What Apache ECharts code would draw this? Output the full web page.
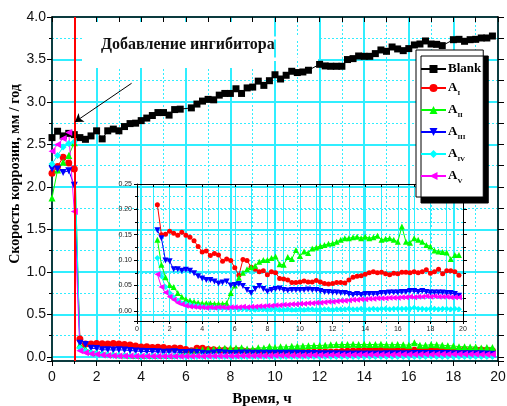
<!DOCTYPE html>
<html><head><meta charset="utf-8">
<script src="https://cdn.jsdelivr.net/npm/echarts@6/dist/echarts.min.js"></script>
<style>html,body{margin:0;padding:0;background:#fff}#c{width:507px;height:406px}</style>
</head><body><div id="c"></div>
<script>
// ---- data (time, h) ----
const hours = [0,0.25,0.5,0.75,1,1.25,1.5,1.75,2,2.25,2.5,2.75,3,3.25,3.5,3.75,4,4.25,4.5,4.75,5,5.25,5.5,5.75,6,6.25,6.5,6.75,7,7.25,7.5,7.75,8,8.25,8.5,8.75,9,9.25,9.5,9.75,10,10.25,10.5,10.75,11,11.25,11.5,11.75,12,12.25,12.5,12.75,13,13.25,13.5,13.75,14,14.25,14.5,14.75,15,15.25,15.5,15.75,16,16.25,16.5,16.75,17,17.25,17.5,17.75,18,18.25,18.5,18.75,19,19.25,19.5,19.75];
const insetHours = hours.slice(5);

const blank = [2.58,2.655,2.60,2.63,2.615,2.58,2.56,2.60,2.66,2.565,
  2.66,2.68,2.66,2.71,2.745,2.75,2.78,2.81,2.84,2.875,
  2.875,2.845,2.91,2.915,null,2.93,2.975,3.01,3.03,3.025,
  3.08,3.10,3.10,3.155,3.10,3.165,3.175,3.245,3.195,3.25,
  3.32,3.27,3.314,3.361,3.346,3.353,3.373,null,3.443,3.424,
  3.42,3.42,3.42,3.499,3.51,3.541,3.537,3.537,3.569,3.612,
  3.596,3.647,3.624,3.604,3.628,3.671,3.682,3.718,3.682,3.678,
  3.663,null,3.733,3.737,3.714,3.733,3.737,3.753,3.753,3.776];

// before inhibitor addition (0 .. 1 h)
const preA1 = [2.16,2.24,2.35,2.28,2.21];
const preA2 = [1.87,2.20,2.29,2.37,2.52];
const preA3 = [2.21,2.21,2.17,2.19,2.02];
const preA4 = [2.27,2.37,2.47,2.51,2.53];
const preA5 = [2.42,2.50,2.57,2.64,1.71];

// after inhibitor addition (1.25 .. 19.75 h)
const postA1 = [0.209,0.150,0.151,0.157,0.153,0.149,0.155,0.149,0.145,0.138,
  0.127,0.116,0.118,0.109,0.113,0.110,0.098,0.102,0.099,0.085,
  0.070,0.101,0.099,0.086,0.082,0.077,0.079,0.071,0.077,0.075,
  0.064,0.063,0.061,0.056,0.056,0.057,0.059,0.057,0.057,0.060,
  0.057,0.054,0.053,0.054,0.056,0.056,0.055,0.061,
  0.066,0.068,0.069,0.072,0.075,0.077,0.075,0.076,0.073,0.071,
  0.074,0.073,0.076,0.076,0.075,0.077,0.075,0.077,0.081,0.074,
  0.077,0.082,0.073,0.079,0.079,0.077,0.070];
const postA2 = [0.140,0.091,0.066,0.051,0.047,0.035,0.028,0.023,0.020,0.018,
  0.016,0.015,0.015,0.015,0.014,0.014,0.014,0.015,0.035,0.050,0.065,0.075,
  0.082,0.086,0.089,0.097,0.100,0.100,0.104,0.107,0.092,0.091,
  0.106,0.102,0.120,0.108,0.117,0.114,0.123,0.125,0.128,0.130,
  0.132,0.133,0.136,0.140,0.143,0.143,
  0.145,0.146,0.143,0.146,0.143,0.145,0.148,0.140,0.142,0.143,
  0.140,0.136,0.166,0.136,0.134,0.143,0.140,0.136,0.130,0.127,
  0.119,0.117,0.116,0.115,0.102,0.110,0.110];
const postA3 = [0.159,0.143,0.099,0.098,0.082,0.082,0.079,0.081,0.079,0.074,
  0.068,0.064,0.061,0.061,0.058,0.054,0.056,0.058,0.050,0.051,0.053,0.049,
  0.041,0.035,0.043,0.049,0.043,0.038,0.041,0.043,0.044,0.041,
  0.040,0.041,0.041,0.041,0.041,0.042,0.041,0.041,0.039,0.037,
  0.037,0.036,0.036,0.035,0.035,0.033,
  0.031,0.033,0.031,0.033,0.033,0.033,0.033,0.035,0.035,0.036,
  0.036,0.036,0.037,0.037,0.039,0.039,0.037,0.039,0.037,0.036,
  0.036,0.036,0.036,0.035,0.035,0.033,0.030];
const postA4 = [0.104,0.068,0.047,0.035,0.027,0.020,0.015,0.014,0.012,0.010,
  0.009,0.008,0.007,0.006,0.006,0.005,0.005,0.005,0.005,0.005,
  0.003,0.004,0.003,0.003,0.002,0.003,0.003,0.002,0.003,0.003,
  0.002,0.002,0.003,0.002,0.002,0.003,0.002,0.003,0.003,0.002,
  0.003,0.003,0.003,0.002,0.003,0.003,0.003,0.004,0.003,0.003,
  0.004,0.003,0.003,0.004,0.003,0.004,0.004,0.003,0.004,0.004,
  0.004,0.004,0.004,0.006,0.004,0.004,0.003,0.004,0.004,0.003,
  0.004,0.004,0.003,0.004,0.003];
const postA5 = [0.072,0.047,0.036,0.028,0.022,0.016,0.013,0.010,0.0085,0.008,
  0.007,0.007,0.006,0.007,0.006,0.007,0.007,0.006,0.007,0.007,0.007,0.008,
  0.007,0.008,0.008,0.009,0.009,0.010,0.010,0.011,0.011,0.012,
  0.012,0.013,0.013,0.014,0.014,0.015,0.015,0.016,0.016,0.017,
  0.018,0.018,0.019,0.020,0.020,0.021,0.022,0.022,0.023,
  0.023,0.024,0.024,0.025,0.025,0.025,0.026,0.026,0.026,0.027,
  0.027,0.028,0.027,0.028,0.028,0.029,0.028,0.029,0.028,0.028,
  0.028,0.027,0.027,0.027];

const seriesNames = ['Blank','AI','AII','AIII','AIV','AV'];
const xTickLabels = ['0','2','4','6','8','10','12','14','16','18','20'];

// ---- styling ----
const CY = '#30eeff';
const SERIF = 'Liberation Serif, Times New Roman, serif';
const SANS = 'Liberation Sans, Arial, sans-serif';
const styles = [
  {color:'#000000', symbol:'rect', rot:0, size:7, isize:5},
  {color:'#ff0000', symbol:'circle', rot:0, size:7, isize:5},
  {color:'#00ff00', symbol:'triangle', rot:0, size:7, isize:6},
  {color:'#0000ff', symbol:'triangle', rot:180, size:7, isize:6},
  {color:'#00ffff', symbol:'diamond', rot:0, size:7, isize:6},
  {color:'#ff00ff', symbol:'triangle', rot:90, size:7, isize:6}
];
const mainVals = [blank, preA1.concat(postA1), preA2.concat(postA2), preA3.concat(postA3), preA4.concat(postA4), preA5.concat(postA5)];
const insetVals = [null, postA1, postA2, postA3, postA4, postA5];

const chart = echarts.init(document.getElementById('c'), null, {renderer:'canvas'});

const series = [];
seriesNames.forEach((nm, i) => {
  const st = styles[i];
  const s = {
    name: nm, type:'line', xAxisIndex:0, yAxisIndex:0,
    data: hours.map((h, j) => [h, mainVals[i][j]]),
    symbol: st.symbol, symbolSize: st.size, symbolRotate: st.rot,
    showAllSymbol: true, connectNulls: true,
    lineStyle: {color: st.color, width: 1}, itemStyle: {color: st.color},
    animation: false, z: 3
  };
  if (i === 0) {
    s.markLine = {
      silent: true, animation: false, symbol: ['none','none'],
      label: {show: false},
      data: [
        {xAxis: 1, lineStyle: {color:'#ff0000', width: 2, type:'solid'}},
        [{coord:[3.57, 3.22], symbol:'none'}, {coord:[1.03, 2.765], symbol:'arrow', symbolSize: 8}]
      ],
      lineStyle: {color:'#000', width: 1, type:'solid'}
    };
  }
  series.push(s);
  if (insetVals[i]) {
    series.push({
      name: nm, type:'line', xAxisIndex:2, yAxisIndex:2,
      data: insetHours.map((h, j) => [h, insetVals[i][j]]),
      symbol: st.symbol, symbolSize: st.isize, symbolRotate: st.rot,
      showAllSymbol: true,
      lineStyle: {color: st.color, width: 1}, itemStyle: {color: st.color},
      animation: false, z: 3
    });
  }
});

const tickBlack = {color:'#000', width: 1};
const option = {
  backgroundColor: '#fff',
  animation: false,
  grid: [
    {left: 52, right: 9, top: 17, bottom: 45, outerBoundsMode: 'none', containLabel: false},
    {left: 137, right: 44, top: 184, bottom: 85, outerBoundsMode: 'none', containLabel: false}
  ],
  legend: {
    data: seriesNames, left: 416, top: 50, orient: 'vertical',
    backgroundColor: '#fff', borderColor: '#000', borderWidth: 1,
    padding: [12, 2, 12, 4], itemGap: 6, itemWidth: 25, itemHeight: 10,
    shadowColor: '#000', shadowBlur: 0, shadowOffsetX: 5, shadowOffsetY: 6,
    selectedMode: false, z: 10,
    formatter: n => n === 'Blank' ? '{a|Blank}' : '{a|A}{s|' + n.slice(1) + '}',
    textStyle: {
      fontFamily: SERIF, fontWeight: 'bold', fontSize: 13, color: '#000', padding: [0,0,0,-3],
      rich: {
        a: {fontFamily: SERIF, fontWeight: 'bold', fontSize: 13, lineHeight: 14, verticalAlign: 'top', color:'#000'},
        s: {fontFamily: SERIF, fontWeight: 'bold', fontSize: 7, lineHeight: 7, padding: [9,0,0,0], verticalAlign: 'top', color:'#000'}
      }
    }
  },
  xAxis: [
    {gridIndex:0, type:'value', position:'bottom', min:0, max:20, interval:2,
     axisLine:{show:true, onZero:false, lineStyle:{color:'#000', width:1.5}},
     axisTick:{show:true, inside:false, length:5, lineStyle:tickBlack},
     minorTick:{show:true, splitNumber:2, length:3, lineStyle:tickBlack},
     axisLabel:{fontFamily:SANS, fontSize:14, color:'#111', margin:9, formatter: (v) => xTickLabels[Math.round(v/2)]},
     splitLine:{show:true, lineStyle:{color:CY, width:2}},
     minorSplitLine:{show:true, lineStyle:{color:CY, width:1, type:[2,2]}},
     name:'Время, ч', nameLocation:'middle', nameGap:31, nameMoveOverlap:false,
     nameTextStyle:{fontFamily:SERIF, fontWeight:'bold', fontSize:15, color:'#000', padding:[0,26,0,0]}},
    {gridIndex:0, type:'value', position:'top', min:0, max:20, interval:2,
     axisLine:{show:true, onZero:false, lineStyle:{color:'#000', width:1.5}},
     axisTick:{show:true, inside:true, length:5, lineStyle:tickBlack},
     minorTick:{show:true, splitNumber:2, length:5, lineStyle:tickBlack},
     axisLabel:{show:false}, splitLine:{show:false}},
    {gridIndex:1, type:'value', position:'bottom', min:0, max:20, interval:2,
     axisLine:{show:true, onZero:false, lineStyle:{color:'#000', width:1}},
     axisTick:{show:true, inside:false, length:3, lineStyle:tickBlack},
     minorTick:{show:true, splitNumber:2, length:2, lineStyle:tickBlack},
     axisLabel:{fontFamily:SANS, fontSize:7, color:'#222', margin:5, formatter: (v) => xTickLabels[Math.round(v/2)]},
     splitLine:{show:true, lineStyle:{color:CY, width:1}},
     minorSplitLine:{show:true, lineStyle:{color:CY, width:1}}},
    {gridIndex:1, type:'value', position:'top', min:0, max:20, interval:2,
     axisLine:{show:true, onZero:false, lineStyle:{color:'#000', width:1}},
     axisTick:{show:true, inside:true, length:3, lineStyle:tickBlack},
     minorTick:{show:true, splitNumber:2, length:3, lineStyle:tickBlack},
     axisLabel:{show:false}, splitLine:{show:false}}
  ],
  yAxis: [
    {gridIndex:0, type:'value', position:'left', min:-0.05, max:4, splitNumber:8,
     axisLine:{show:true, onZero:false, lineStyle:{color:'#000', width:1.5}},
     axisTick:{show:true, inside:false, length:5, lineStyle:tickBlack},
     minorTick:{show:true, splitNumber:2, length:3, lineStyle:tickBlack},
     axisLabel:{fontFamily:SANS, fontSize:14, color:'#111', margin:6, showMinLabel:false, formatter: v => v.toFixed(1)},
     splitLine:{show:true, lineStyle:{color:CY, width:2}},
     minorSplitLine:{show:true, lineStyle:{color:CY, width:1, type:[2,2]}},
     name:'{t|Скорость коррозии, мм / год}', nameLocation:'middle', nameGap:30, nameMoveOverlap:false,
     nameTextStyle:{fontFamily:SERIF, fontWeight:'bold', fontSize:14, color:'#000',
       rich:{t:{fontFamily:SERIF, fontWeight:'bold', fontSize:14, color:'#000', padding:[0,0,0,30]}}}},
    {gridIndex:0, type:'value', position:'right', min:-0.05, max:4, splitNumber:8,
     axisLine:{show:true, onZero:false, lineStyle:{color:'#000', width:1.5}},
     axisTick:{show:true, inside:false, length:6, lineStyle:tickBlack},
     minorTick:{show:true, splitNumber:2, length:6, lineStyle:tickBlack},
     axisLabel:{show:false}, splitLine:{show:false}},
    {gridIndex:1, type:'value', position:'left', min:-0.02, max:0.25, splitNumber:5,
     axisLine:{show:true, onZero:false, lineStyle:{color:'#000', width:1}},
     axisTick:{show:true, inside:false, length:3, lineStyle:tickBlack},
     minorTick:{show:true, splitNumber:2, length:2, lineStyle:tickBlack},
     axisLabel:{fontFamily:SANS, fontSize:7, color:'#222', margin:5, showMinLabel:false, formatter: v => v.toFixed(2)},
     splitLine:{show:true, lineStyle:{color:CY, width:1, type:[2,2]}},
     minorSplitLine:{show:true, lineStyle:{color:CY, width:1, type:[2,2]}}},
    {gridIndex:1, type:'value', position:'right', min:-0.02, max:0.25, splitNumber:5,
     axisLine:{show:true, onZero:false, lineStyle:{color:'#000', width:1}},
     axisTick:{show:true, inside:false, length:4, lineStyle:tickBlack},
     minorTick:{show:true, splitNumber:2, length:3, lineStyle:tickBlack},
     axisLabel:{show:false}, splitLine:{show:false}}
  ],
  graphic: [
    {type:'rect', z:50, shape:{x:82, y:22, width:188, height:46}, style:{fill:'#fff'}},
    {type:'rect', z:50, shape:{x:270, y:36.5, width:48, height:3}, style:{fill:'#fff'}},
    {type:'rect', z:50, shape:{x:270, y:57.5, width:48, height:3.5}, style:{fill:'#fff'}},
    {type:'text', z:51, style:{x:101, y:45, text:'Добавление ингибитора', fontFamily:SERIF, fontWeight:'bold', fontSize:16, fill:'#111', verticalAlign:'middle'}}
  ],
  series: series
};
chart.setOption(option);
</script>
</body></html>
